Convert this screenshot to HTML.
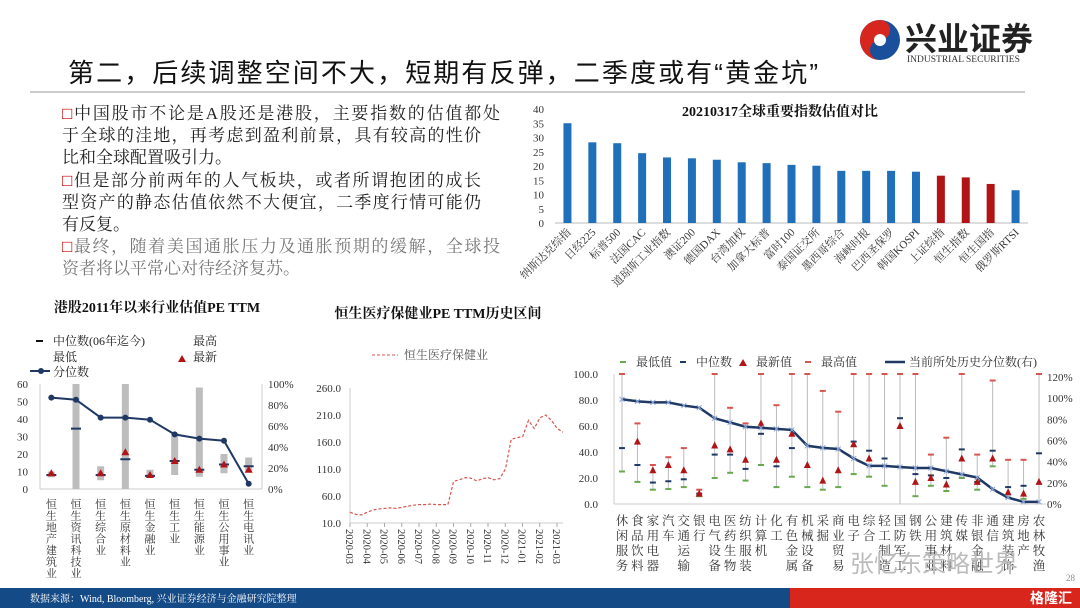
<!DOCTYPE html>
<html><head><meta charset="utf-8"><style>
html,body{margin:0;padding:0;background:#fff;}
svg{display:block;font-family:"Liberation Serif","Noto Serif CJK SC","Noto Sans CJK SC",serif;}
</style></head><body>
<svg id="s" width="1080" height="608" viewBox="0 0 1080 608">
<g>
<circle cx="880" cy="40" r="20" fill="#1a4f9c"/>
<path d="M880 20 A20 20 0 0 0 880 60 A10 10 0 0 1 880 40 A10 10 0 0 0 880 20Z" fill="#d7261e"/>
<circle cx="880" cy="40" r="6" fill="#fff"/>
<text x="905" y="50" font-size="32" font-weight="bold" fill="#222" font-family="Liberation Sans,Noto Sans CJK SC,sans-serif">兴业证券</text>
<text x="907" y="62" font-size="9.5" fill="#333">INDUSTRIAL SECURITIES</text>
</g>
<text x="68" y="82" font-size="26" fill="#111" font-family="Liberation Sans,Noto Sans CJK SC,sans-serif" textLength="750">第二，后续调整空间不大，短期有反弹，二季度或有“黄金坑”</text>
<line x1="30" y1="92" x2="1025" y2="92" stroke="#999" stroke-width="1"/>
<g font-size="17" fill="#222">
<text x="62" y="119" textLength="438"><tspan fill="#c00">□</tspan>中国股市不论是A股还是港股，主要指数的估值都处</text>
<text x="62" y="141" textLength="419">于全球的洼地，再考虑到盈利前景，具有较高的性价</text>
<text x="62" y="163">比和全球配置吸引力。</text>
<text x="62" y="186" textLength="419"><tspan fill="#c00">□</tspan>但是部分前两年的人气板块，或者所谓抱团的成长</text>
<text x="62" y="208" textLength="419">型资产的静态估值依然不大便宜，二季度行情可能仍</text>
<text x="62" y="230">有反复。</text>
<text x="62" y="252" fill="#777" textLength="438"><tspan fill="#c00">□</tspan>最终，随着美国通胀压力及通胀预期的缓解，全球投</text>
<text x="62" y="274" fill="#777">资者将以平常心对待经济复苏。</text>
</g>
<g id="c1"></g>
<g id="c2"></g>
<g id="c3"></g>
<g id="c4"></g>
<text x="850" y="572" font-size="24" fill="#bbb" font-family="Liberation Sans,Noto Sans CJK SC,sans-serif">张忆东策略世界</text>
<text x="1066" y="581" font-size="9" fill="#888">28</text>
<rect x="0" y="588" width="790" height="20" fill="#144a86"/>
<rect x="790" y="588" width="290" height="20" fill="#d9261c"/>
<text x="30" y="602" font-size="10" fill="#fff">数据来源：Wind, Bloomberg, 兴业证券经济与金融研究院整理</text>
<text x="1030" y="603" font-size="14" fill="#fff" font-weight="bold" font-family="Liberation Sans,Noto Sans CJK SC,sans-serif">格隆汇</text>
</svg>
<script>
// Chart 1 data
const c1Cats=["纳斯达克综指","日经225","标普500","法国CAC","道琼斯工业指数","澳证200","德国DAX","台湾加权","加拿大标普","富时100","泰国证交所","墨西哥综合","海峡时报","巴西圣保罗","韩国KOSPI","上证综指","恒生指数","恒生国指","俄罗斯RTSI"];
const c1Vals=[35,28.3,28,24.5,23,22.7,22.2,21.3,21,20.4,20.1,18.3,18.3,18.3,18,16.6,16,13.7,11.5];
const c1Red=["上证综指","恒生指数","恒生国指"];
const c1Ticks=[0,5,10,15,20,25,30,35,40];
// Chart 2 data
const c2Cats=["恒生地产建筑业","恒生资讯科技业","恒生综合业","恒生原材料业","恒生金融业","恒生工业","恒生能源业","恒生公用事业","恒生电讯业"];
const c2Low=[6.7,0,5,0,7,8,7,9,10];
const c2High=[10,62,13,62,11,32,58,20,18];
const c2Median=[8,34.5,8,17,7.5,16,11,14,13];
const c2Latest=[9,null,9,21,8,16,11,14,11];
const c2Pct=[87,85,68,68,66,52,48,46,5];
const c2LeftTicks=[0,10,20,30,40,50,60];
const c2RightTicks=["0%","20%","40%","60%","80%","100%"];
// Chart 3 data
const c3Ticks=["2020-03","2020-04","2020-05","2020-06","2020-07","2020-08","2020-09","2020-10","2020-11","2020-12","2021-01","2021-02","2021-03"];
const c3Vals=[30,26,25,30,34,36,37,38,37,39,41,43,44,44,45,44,44,44,87,90,94,93,88,92,94,90,92,110,165,168,170,200,185,205,210,200,185,178];
const c3YTicks=[10,60,110,160,210,260];
// Chart 4 data
const c4Cats=["休闲服务","食品饮料","家用电器","汽车","交通运输","银行","电气设备","医药生物","纺织服装","计算机","化工","有色金属","机械设备","采掘","商业贸易","电子","综合","轻工制造","国防军工","钢铁","公用事业","建筑材料","传媒","非银金融","通信","建筑装饰","房地产","农林牧渔"];
const c4Min=[25,17,11,11.5,13,6,20,24,18,30,13,21,13,11,13,23,21,14,null,6,14,10,20,11,29,5,4,null];
const c4Max=[100,62,30,36,43,11,100,74,62,100,76,100,100,87,71,100,100,100,100,100,38,51,100,38,95,34,34,100];
const c4Median=[43,30,16.5,17.5,19,8,38,38,27,54,29,43,null,null,null,48,41,35,66,23,22,20,42,17,41,13,14,39];
const c4Latest=[null,48,26,30,26,8,45,42,34,62,34,54,30,18,26,46,35,null,60,17,20,15,35,17,35,9,8,17];
const c4Pct=[99,97,96,96,93,91,81,77,73,72,71,70,55,53,52,43,36,36,35,34,34,31,28,25,14,6,2,2];
const c4LeftTicks=[0,20,40,60,80,100];
const c4RightTicks=[0,20,40,60,80,100,120];

const NS="http://www.w3.org/2000/svg";
function mk(p,tag,a){const e=document.createElementNS(NS,tag);for(const k in a)e.setAttribute(k,a[k]);p.appendChild(e);return e;}
function txt(p,x,y,s,a){const e=mk(p,"text",Object.assign({x:x,y:y},a||{}));e.textContent=s;return e;}
function vtext(p,x,y,s,size,step,fill){for(let i=0;i<s.length;i++){txt(p,x,y+i*step,s[i],{"font-size":size,"text-anchor":"middle",fill:fill||"#222"});}}

// ---- Chart 1
(function(){
const g=document.getElementById("c1");
const x0=555,x1=1028,yb=223,yt=109,mx=40;
const ys=v=>yb-(v/mx)*(yb-yt);
const step=(x1-x0)/c1Cats.length;
const xs=i=>x0+step*(i+0.5);
txt(g,780,116,"20210317全球重要指数估值对比",{"font-size":14,"font-weight":"bold","text-anchor":"middle",fill:"#111"});
mk(g,"line",{x1:x0,y1:yb,x2:x1,y2:yb,stroke:"#bbb"});
c1Ticks.forEach(t=>{txt(g,544,ys(t)+4,String(t),{"font-size":11,"text-anchor":"end",fill:"#333"});});
c1Cats.forEach((c,i)=>{
const b=mk(g,"rect",{x:xs(i)-4,y:ys(c1Vals[i]),width:8,height:yb-ys(c1Vals[i]),fill:c1Red.includes(c)?"#b01416":"#1f6fba"});


txt(g,xs(i)+4,yb+10,c,{"font-size":11,"text-anchor":"end",fill:"#333",transform:`rotate(-45 ${xs(i)+4} ${yb+10})`});
});
})();

// ---- Chart 2
(function(){
const g=document.getElementById("c2");
const x0=40,x1=262,yb=489,yt=384,mx=60;
const ys=v=>yb-(Math.min(v,mx)/mx)*(yb-yt);
const yp=p=>yb-(p/100)*(yb-yt);
const step=(x1-x0)/c2Cats.length;
const xs=i=>x0+step*(i+0.5)-1;
txt(g,157,312,"港股2011年以来行业估值PE TTM",{"font-size":14,"font-weight":"bold","text-anchor":"middle",fill:"#111"});
mk(g,"line",{x1:36,y1:341,x2:43,y2:341,stroke:"#111","stroke-width":2});
txt(g,53,345,"中位数(06年迄今)",{"font-size":12,fill:"#222"});
txt(g,53,361,"最低",{"font-size":12,fill:"#222"});
mk(g,"line",{x1:30,y1:371,x2:50,y2:371,stroke:"#1f3864","stroke-width":2});
mk(g,"circle",{cx:41,cy:371,r:3,fill:"#1f3864"});
txt(g,53,376,"分位数",{"font-size":12,fill:"#222"});
txt(g,193,345,"最高",{"font-size":12,fill:"#222"});
mk(g,"path",{d:"M178 362 l4 -7 l4 7z",fill:"#b01416"});
txt(g,193,361,"最新",{"font-size":12,fill:"#222"});
mk(g,"line",{x1:x0,y1:yt,x2:x0,y2:yb,stroke:"#ccc"});
mk(g,"line",{x1:x0,y1:yb,x2:x1,y2:yb,stroke:"#ccc"});
mk(g,"line",{x1:x1,y1:yt,x2:x1,y2:yb,stroke:"#ccc"});
c2LeftTicks.forEach(t=>txt(g,28,ys(t)+4,String(t),{"font-size":11,"text-anchor":"end",fill:"#333"}));
c2RightTicks.forEach((t,i)=>txt(g,268,yp(i*20)+4,t,{"font-size":11,fill:"#333"}));
let pts=[];
c2Cats.forEach((c,i)=>{
const x=xs(i);
const r=mk(g,"rect",{x:x-3.5,y:ys(c2High[i]),width:7,height:ys(c2Low[i])-ys(c2High[i]),fill:"#bdbdbd"});


mk(g,"line",{x1:x-5,y1:ys(c2Median[i]),x2:x+5,y2:ys(c2Median[i]),stroke:"#1f3864","stroke-width":2});
if(c2Latest[i]!=null)mk(g,"path",{d:`M${x-4} ${ys(c2Latest[i])+3} l4 -7 l4 7z`,fill:"#b01416"});
pts.push([x,yp(c2Pct[i])]);
vtext(g,x,508,c,11,11.5,"#333");
});
mk(g,"polyline",{points:pts.map(p=>p.join(",")).join(" "),fill:"none",stroke:"#1f3864","stroke-width":2});
pts.forEach(p=>mk(g,"circle",{cx:p[0],cy:p[1],r:3,fill:"#1f3864"}));
})();

// ---- Chart 3
(function(){
const g=document.getElementById("c3");
const x0=350,x1=563,yb=523,yt=388;
const ys=v=>yb-((v-10)/250)*(yb-yt);
txt(g,438,318,"恒生医疗保健业PE TTM历史区间",{"font-size":14,"font-weight":"bold","text-anchor":"middle",fill:"#111"});
mk(g,"line",{x1:372,y1:355,x2:398,y2:355,stroke:"#d9534f","stroke-dasharray":"3,2"});
txt(g,404,359,"恒生医疗保健业",{"font-size":12,fill:"#555"});
mk(g,"line",{x1:x0,y1:yt,x2:x0,y2:yb,stroke:"#ccc"});
mk(g,"line",{x1:x0,y1:yb,x2:x1,y2:yb,stroke:"#ccc"});
c3YTicks.forEach(t=>txt(g,341,ys(t)+4,t.toFixed(1),{"font-size":11,"text-anchor":"end",fill:"#333"}));
const tstep=(557-x0)/(c3Ticks.length-1);
c3Ticks.forEach((t,i)=>{const x=x0+i*tstep;mk(g,"line",{x1:x,y1:yb,x2:x,y2:yb+4,stroke:"#aaa"});
txt(g,x-4,yb+6,t,{"font-size":10.5,fill:"#333",transform:`rotate(90 ${x-4} ${yb+6})`});});
const n=c3Vals.length;const xs=i=>x0+i*(x1-x0)/(n-1);
const l=mk(g,"polyline",{points:c3Vals.map((v,i)=>xs(i)+","+ys(v)).join(" "),fill:"none",stroke:"#d9534f","stroke-width":1.2,"stroke-dasharray":"3,2"});


})();

// ---- Chart 4
(function(){
const g=document.getElementById("c4");
const x0=614,x1=1046,yb=504,yt=374;
const ys=v=>yb-(v/100)*(yb-yt);
const yp=p=>yb-(p/120)*(yb-377);
const step=(1039-622)/(c4Cats.length-1);
const xs=i=>622+i*step;
const leg=[[620,"#6aa84f","最低值","dash"],[680,"#1f3864","中位数","dash"],[740,"#b01416","最新值","tri"],[805,"#d9534f","最高值","dash"]];
leg.forEach(l=>{if(l[3]=="dash")mk(g,"line",{x1:l[0],y1:362,x2:l[0]+6,y2:362,stroke:l[1],"stroke-width":2});else mk(g,"path",{d:`M${l[0]-1} 366 l4 -7 l4 7z`,fill:l[1]});
txt(g,l[0]+16,366,l[2],{"font-size":12,fill:"#333"});});
mk(g,"line",{x1:885,y1:362,x2:905,y2:362,stroke:"#1f3864","stroke-width":2.5});
txt(g,909,366,"当前所处历史分位数(右)",{"font-size":12,fill:"#333"});
mk(g,"line",{x1:x0,y1:yt,x2:x0,y2:yb,stroke:"#ccc"});
mk(g,"line",{x1:x0,y1:yb,x2:x1,y2:yb,stroke:"#ccc"});
c4LeftTicks.forEach(t=>txt(g,598,ys(t)+4,t.toFixed(1),{"font-size":11,"text-anchor":"end",fill:"#333"}));
c4RightTicks.forEach(t=>txt(g,1047,yp(t)+4,t+"%",{"font-size":11,fill:"#333"}));
let pts=[];
c4Cats.forEach((c,i)=>{
const x=xs(i);
const lo=c4Min[i]!=null?c4Min[i]:0;
mk(g,"line",{x1:x,y1:ys(c4Max[i]),x2:x,y2:ys(lo),stroke:"#bbb","stroke-width":1});
if(c4Min[i]!=null)mk(g,"line",{x1:x-3,y1:ys(c4Min[i]),x2:x+3,y2:ys(c4Min[i]),stroke:"#6aa84f","stroke-width":2});
if(c4Median[i]!=null)mk(g,"line",{x1:x-3,y1:ys(c4Median[i]),x2:x+3,y2:ys(c4Median[i]),stroke:"#1f3864","stroke-width":2});
mk(g,"line",{x1:x-3,y1:ys(c4Max[i]),x2:x+3,y2:ys(c4Max[i]),stroke:"#d9534f","stroke-width":2});
if(c4Latest[i]!=null){const t=mk(g,"path",{d:`M${x-3.5} ${ys(c4Latest[i])+3} l3.5 -7 l3.5 7z`,fill:"#b01416"});

}
pts.push([x,yp(c4Pct[i])]);
vtext(g,x,525,c,12.5,15,"#333");
});
mk(g,"polyline",{points:pts.map(p=>p.join(",")).join(" "),fill:"none",stroke:"#1f3864","stroke-width":2.5});
pts.forEach(p=>{mk(g,"path",{d:`M${p[0]-2.5} ${p[1]-2.5} l5 5 M${p[0]+2.5} ${p[1]-2.5} l-5 5`,stroke:"#8ea9db","stroke-width":1});});
})();
</script>
</body></html>
